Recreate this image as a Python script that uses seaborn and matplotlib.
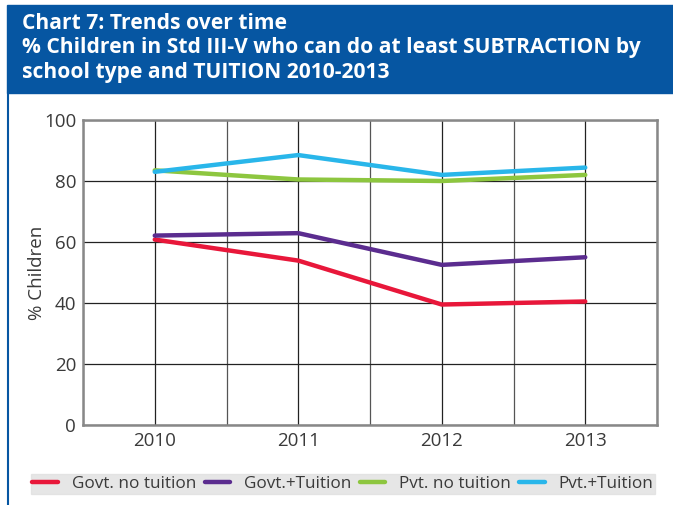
import seaborn as sns
import matplotlib.pyplot as plt
import matplotlib.patches as patches
from matplotlib.ticker import MultipleLocator
import pandas as pd

years = [2010, 2011, 2012, 2013]
series = ["Govt. no tuition", "Govt.+Tuition", "Pvt. no tuition", "Pvt.+Tuition"]
govt_no_tuition = [60.8, 53.9, 39.5, 40.5]
govt_tuition = [62.1, 62.9, 52.5, 55.0]
pvt_no_tuition = [83.5, 80.5, 80.0, 82.0]
pvt_tuition = [83.0, 88.5, 82.0, 84.4]
colors = ["#e8173a", "#5b2c8f", "#8dc63f", "#29b6ea"]

rows = []
for name, vals in zip(series, [govt_no_tuition, govt_tuition, pvt_no_tuition, pvt_tuition]):
    for yr, v in zip(years, vals):
        rows.append({"year": yr, "value": v, "type": name})
df = pd.DataFrame(rows)

sns.set_theme(style="white")
plt.rcParams['font.family'] = ['Open Sans', 'DejaVu Sans']

fig = plt.figure(figsize=(6.73, 5.05), dpi=100)
ax = fig.add_axes([83 / 673, 1 - 425 / 505, (657 - 83) / 673, (425 - 120) / 505])

sns.lineplot(data=df, x="year", y="value", hue="type", hue_order=series,
             palette=colors, linewidth=3.2, ax=ax, legend=False)

ax.set_xlim(2009.5, 2013.5)
ax.set_ylim(0, 100)
ax.set_xticks(years)
ax.set_xticklabels([str(y) for y in years])
ax.xaxis.set_minor_locator(MultipleLocator(0.5))
ax.set_yticks(range(0, 101, 20))
ax.grid(True, which="major", axis="x", color="#222222", linewidth=0.9)
ax.grid(True, which="minor", axis="x", color="#555555", linewidth=0.9)
ax.grid(True, which="major", axis="y", color="#222222", linewidth=0.9)
ax.set_axisbelow(True)
for s in ax.spines.values():
    s.set_color("#888888")
    s.set_linewidth(1.8)
ax.tick_params(axis="both", which="both", length=0, labelsize=13.5, labelcolor="#3a3a3a", pad=5)
ax.set_xlabel("")
ax.set_ylabel("% Children", fontsize=13.5, color="#3a3a3a")
ax.yaxis.set_label_coords(-0.064, 0.5)

# header box
fig.patches.append(patches.Rectangle((7 / 673, 1 - 93 / 505), 1 - 7 / 673, 88 / 505,
                                     transform=fig.transFigure, color="#0656a2", zorder=0))
fig.lines.append(plt.Line2D([8 / 673, 8 / 673], [0, 1 - 93 / 505], transform=fig.transFigure,
                            color="#0656a2", linewidth=1.5))
fig.text(22 / 673, 1 - 48 / 505,
         "Chart 7: Trends over time\n% Children in Std III-V who can do at least SUBTRACTION by\nschool type and TUITION 2010-2013",
         color="white", fontsize=15.1, fontweight="bold", va="center", ha="left", linespacing=1.2)

handles = [plt.Line2D([], [], color=c, linewidth=3.2) for c in colors]
leg = fig.legend(handles, series, loc="center", bbox_to_anchor=(343 / 673, 1 - 484 / 505),
                 ncol=4, frameon=True, fancybox=False, facecolor="#e0e0e0", edgecolor="#e0e0e0",
                 fontsize=12.3, handlelength=1.5, handletextpad=0.8, columnspacing=0.5,
                 borderpad=0.1, borderaxespad=0)
for t in leg.get_texts():
    t.set_color("#3a3a3a")

plt.savefig("out.png", dpi=100)
